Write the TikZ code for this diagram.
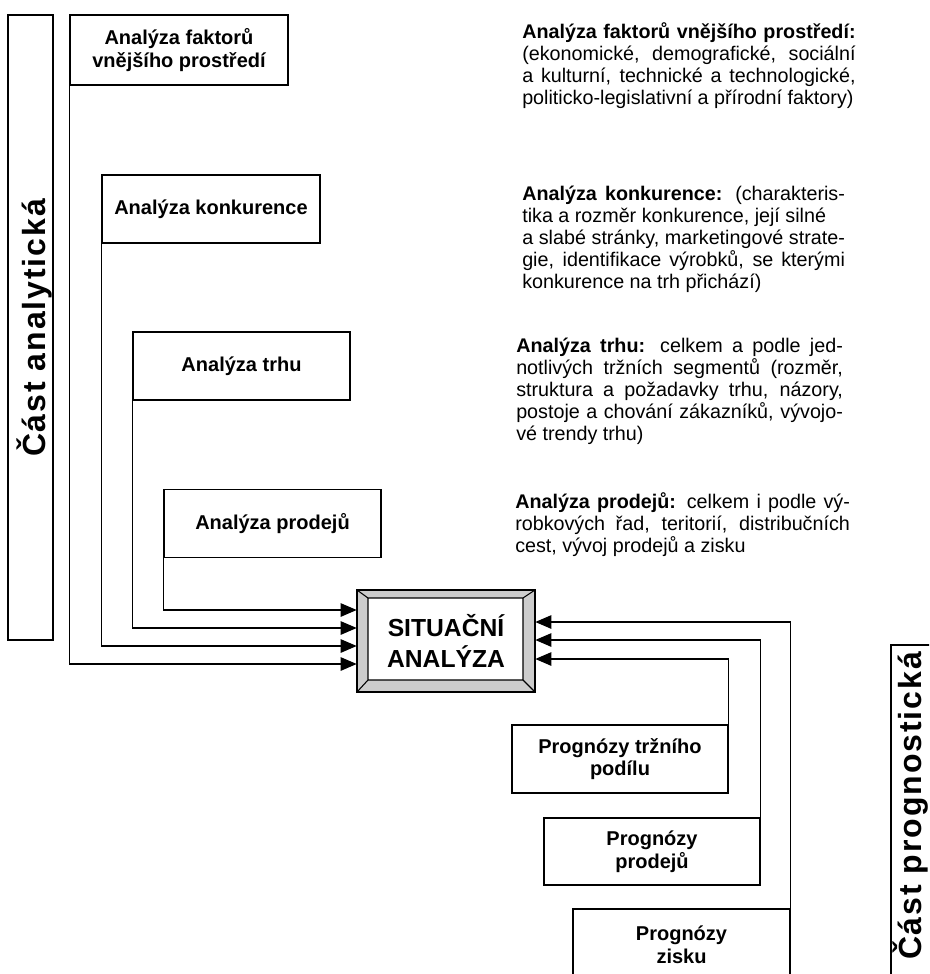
\documentclass[tikz,border=0pt]{standalone}
\usepackage{fontspec}
\setmainfont{Liberation Sans}
\newfontfamily\sidefont[LetterSpace=6]{Liberation Sans}
\usetikzlibrary{arrows.meta,calc}
% one justified line of a fixed width
\newcommand\jl[2]{\makebox[#1][s]{#2}}
\newcommand\topstrut{\rule{0pt}{12pt}}

\begin{document}
\begin{tikzpicture}[x=0.75pt,y=-0.75pt,
  every node/.style={inner sep=0pt},
  stagebox/.style={draw,line width=1.1pt,align=center,
    font=\fontsize{15}{17}\selectfont\bfseries},
  conn/.style={line width=1.1pt,-{Triangle[length=12pt,width=10pt]}},
  blocktext/.style={anchor=north west,align=left,
    font=\fontsize{14.8}{16.5}\selectfont},
  sidebox/.style={draw,line width=1.1pt},
  sidetext/.style={rotate=90,font=\sidefont\fontsize{24}{28}\selectfont\bfseries},
]
\useasboundingbox (0,0) rectangle (929,974);
\clip (0,0) rectangle (929,974);

% side labels
\node[sidebox,minimum width=468.75pt,minimum height=33.75pt,rotate=90] (sideA) at (30.5,327.5) {};
\node[sidetext] (sideAt) at (34,328) {Část analytická};
\node[sidebox,minimum width=266.25pt,minimum height=33.75pt,rotate=90] (sideP) at (913.5,822.5) {};
\node[sidetext] (sidePt) at (911,806) {Část prognostická};

% analytical inputs
\node[stagebox,minimum width=163.5pt,minimum height=52.5pt] (f1) at (179,50) {Analýza faktorů\\vnějšího prostředí};
\node[stagebox,minimum width=163.5pt,minimum height=51pt] (f2) at (211,209) {Analýza konkurence};
\node[stagebox,minimum width=162.75pt,minimum height=51pt] (f3) at (241.5,366) {Analýza trhu};
\node[stagebox,minimum width=162.75pt,minimum height=51pt] (f4) at (272.5,523.5) {Analýza prodejů};

% forecasting inputs
\node[stagebox,minimum width=162pt,minimum height=51pt] (p1) at (620,759) {Prognózy tržního\\podílu};
\node[stagebox,minimum width=162pt,minimum height=50.25pt] (p2) at (652,851.5) {Prognózy\\prodejů};
\node[stagebox,minimum width=162.75pt,minimum height=54pt] (p3) at (681.5,945) {Prognózy\\zisku};

% central bevelled frame
\fill[gray!40] (357,590) rectangle (535,692);
\fill[white] (368,598) rectangle (523,680);
\draw[line width=1.1pt] (357,590) rectangle (535,692);
\draw[line width=0.8pt] (368,598) rectangle (523,680)
  (357,590) -- (368,598) (535,590) -- (523,598)
  (357,692) -- (368,680) (535,692) -- (523,680);
\node[font=\fontsize{18.5}{23}\selectfont\bfseries,align=center,
  minimum width=133.5pt,minimum height=76.5pt] (sit) at (446,641) {SITUAČNÍ\\ANALÝZA};

% connectors into the situation analysis
\draw[conn] (f1.south west) |- ($(sit.west)+(0,23)$);
\draw[conn] (f2.south west) |- ($(sit.west)+(0,5)$);
\draw[conn] (f3.south west) |- ($(sit.west)+(0,-13)$);
\draw[conn] (f4.south west) |- ($(sit.west)+(0,-31)$);
\draw[conn] (p1.north east) |- ($(sit.east)+(0,18)$);
\draw[conn] (p2.north east) |- ($(sit.east)+(0,-1)$);
\draw[conn] (p3.north east) |- ($(sit.east)+(0,-19)$);

% descriptions
\node[blocktext] (d1) at (522,22) {%
  \topstrut\jl{250pt}{\textbf{Analýza faktorů vnějšího prostředí:}}\\
  \jl{250pt}{(ekonomické, demografické, sociální}\\
  \jl{250pt}{a kulturní, technické a technologické,}\\
  politicko-legislativní a přírodní faktory)};
\node[blocktext] (d2) at (522,184) {%
  \topstrut\jl{242pt}{\textbf{Analýza konkurence:} (charakteris-}\\
  tika a rozměr konkurence, její silné\\
  \jl{242pt}{a slabé stránky, marketingové strate-}\\
  \jl{242pt}{gie, identifikace výrobků, se kterými}\\
  konkurence na trh přichází)};
\node[blocktext] (d3) at (516,336) {%
  \topstrut\jl{245pt}{\textbf{Analýza trhu:} celkem a podle jed-}\\
  \jl{245pt}{notlivých tržních segmentů (rozměr,}\\
  \jl{245pt}{struktura a požadavky trhu, názory,}\\
  \jl{245pt}{postoje a chování zákazníků, vývojo-}\\
  vé trendy trhu)};
\node[blocktext] (d4) at (515,492) {%
  \topstrut\jl{251pt}{\textbf{Analýza prodejů:} celkem i podle vý-}\\
  \jl{251pt}{robkových řad, teritorií, distribučních}\\
  cest, vývoj prodejů a zisku};
\end{tikzpicture}
\end{document}
